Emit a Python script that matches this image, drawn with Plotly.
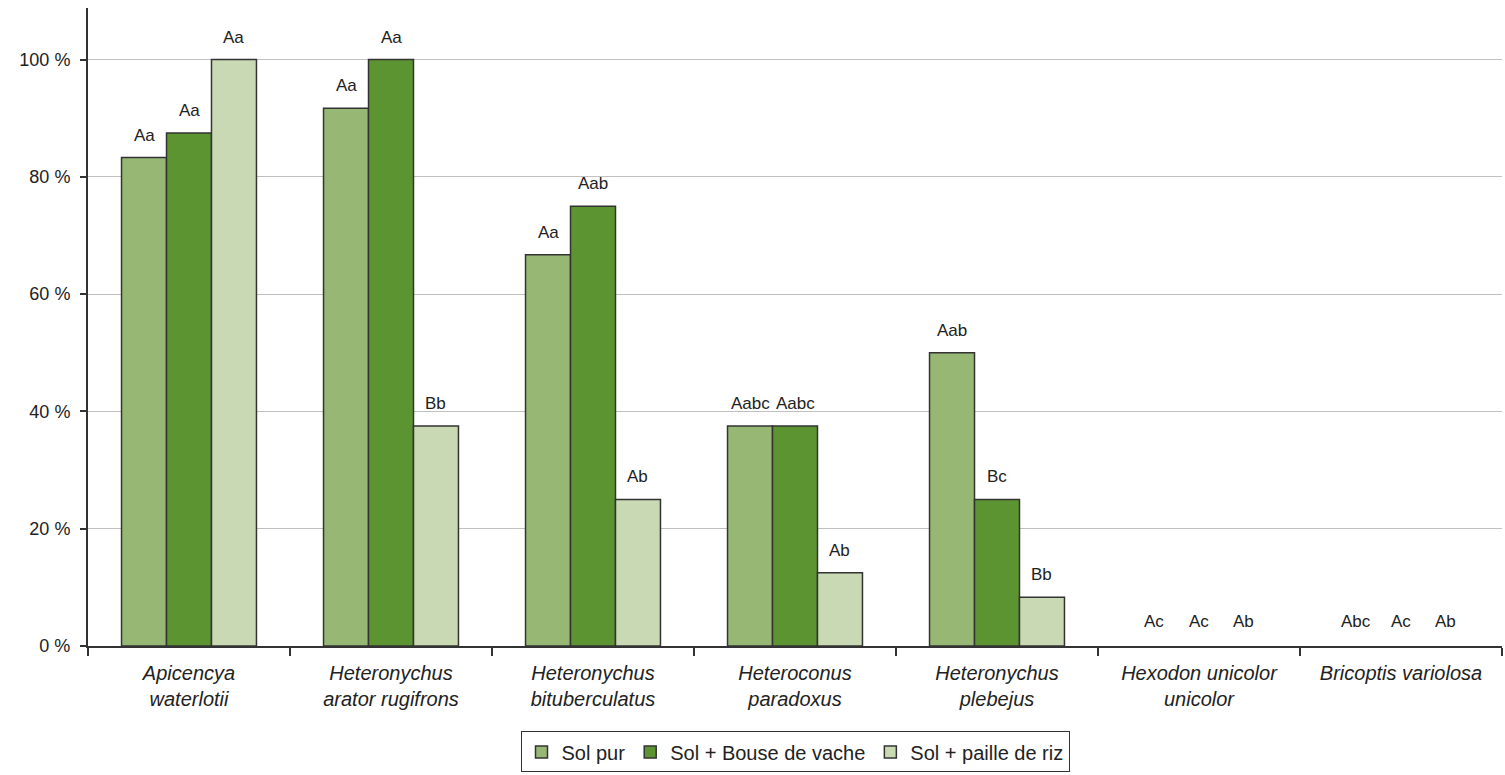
import plotly.graph_objects as go

categories = [
    "Apicencya<br>waterlotii",
    "Heteronychus<br>arator rugifrons",
    "Heteronychus<br>bituberculatus",
    "Heteroconus<br>paradoxus",
    "Heteronychus<br>plebejus",
    "Hexodon unicolor<br>unicolor",
    "Bricoptis variolosa",
]
series_names = ["Sol pur", "Sol + Bouse de vache", "Sol + paille de riz"]
sol_pur = [83.3, 91.7, 66.7, 37.5, 50.0, 0, 0]
bouse = [87.5, 100.0, 75.0, 37.5, 25.0, 0, 0]
paille = [100.0, 37.5, 25.0, 12.5, 8.3, 0, 0]
labels_sol_pur = ["Aa", "Aa", "Aa", "Aabc", "Aab", "Ac", "Abc"]
labels_bouse = ["Aa", "Aa", "Aab", "Aabc", "Bc", "Ac", "Ac"]
labels_paille = ["Aa", "Bb", "Ab", "Ab", "Bb", "Ab", "Ab"]
y_ticks = [0, 20, 40, 60, 80, 100]

colors = ["#97b874", "#5c9432", "#c8d9b4"]
values = [sol_pur, bouse, paille]
labels = [labels_sol_pur, labels_bouse, labels_paille]

bargap = 0.332
fig = go.Figure()
for name, vals, col in zip(series_names, values, colors):
    fig.add_trace(go.Bar(
        x=categories, y=vals, name=name,
        marker=dict(color=col,
                    line=dict(color="#333333",
                              width=[1.5 if v > 0 else 0 for v in vals])),
    ))

w = (1 - bargap) / 3
annotations = []
for j, labs in enumerate(labels):
    for i, lab in enumerate(labs):
        annotations.append(dict(
            x=i + (j - 1) * w, y=values[j][i], xref="x", yref="y",
            text=lab, showarrow=False, yanchor="bottom",
            yshift=11 if values[j][i] > 0 else 13,
            font=dict(family="Liberation Sans, Arial", size=17, color="#222"),
        ))

fig.update_layout(
    width=1505, height=775,
    margin=dict(l=88, r=3, t=8, b=126),
    paper_bgcolor="white", plot_bgcolor="white",
    barmode="group", bargap=bargap, bargroupgap=0,
    font=dict(family="Liberation Sans, Arial", color="#222"),
    annotations=annotations,
    showlegend=True,
    legend=dict(
        orientation="h", x=0.5, xanchor="center", y=-0.134, yanchor="top",
        bordercolor="#333", borderwidth=1, bgcolor="white",
        font=dict(size=20, color="#222"),
    ),
    xaxis=dict(
        showline=True, linecolor="#333", linewidth=2,
        ticks="outside", ticklen=8, tickwidth=2, tickcolor="#333",
        tickson="boundaries", ticklabelstandoff=8,
        tickfont=dict(size=20, style="italic", color="#222"),
        showgrid=False,
    ),
    yaxis=dict(
        range=[0, 108.8], tickmode="array", tickvals=y_ticks,
        ticktext=[f"{v} %" for v in y_ticks],
        showline=True, linecolor="#333", linewidth=2,
        ticks="outside", ticklen=6, tickwidth=2, tickcolor="#333",
        ticklabelstandoff=6,
        tickfont=dict(size=18, color="#222"),
        showgrid=True, gridcolor="#c0c0c0", gridwidth=1,
        zeroline=False,
    ),
)

fig.write_html("out.html")
